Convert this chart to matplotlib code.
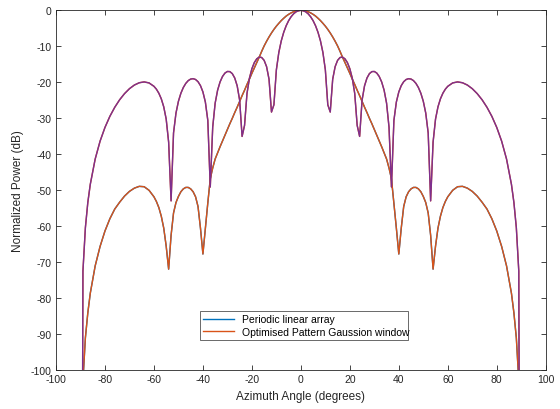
import matplotlib
matplotlib.use("Agg")
import matplotlib.pyplot as plt
import numpy as np

plt.rcParams['font.family'] = ['Liberation Sans', 'DejaVu Sans']
plt.rcParams['axes.unicode_minus'] = False

# azimuth grid (degrees)
angle = [-90, -89, -88, -87, -86, -84, -82, -80, -78, -76, -74, -72, -70, -68, -66, -64, -62,
         -60, -59, -58, -57, -56, -55, -54, -53, -52, -51, -50, -49, -48, -47, -46, -45, -44, -43,
         -42, -41, -40, -39, -38, -37, -36, -35, -34, -33, -32, -31, -30, -29, -28, -27, -26, -25,
         -24, -23, -22, -21, -20, -19, -18, -17, -16, -15, -14, -13, -12, -11, -10, -9, -8, -7,
         -6, -5, -4, -3, -2, -1,
         0,
         1, 2, 3, 4, 5, 6, 7, 8, 9, 10, 11, 12, 13, 14, 15, 16, 17, 18, 19, 20, 21, 22, 23, 24,
         25, 26, 27, 28, 29, 30, 31, 32, 33, 34, 35, 36, 37, 38, 39, 40, 41, 42, 43, 44, 45, 46,
         47, 48, 49, 50, 51, 52, 53, 54, 55, 56, 57, 58, 59, 60,
         62, 64, 66, 68, 70, 72, 74, 76, 78, 80, 82, 84, 86, 87, 88, 89, 90]

# periodic (uniform) linear array, normalised power in dB
periodic_db = [-300, -72.44, -60.39, -53.34, -48.35, -41.32, -36.35, -32.53, -29.45, -26.93, -24.84,
               -23.13, -21.77, -20.76, -20.12, -19.89, -20.17,
               -21.11, -21.91, -23.03, -24.59, -26.81, -30.21, -36.61, -52.94, -34.06, -28.54, -25.27,
               -23.04, -21.44, -20.30, -19.53, -19.10, -18.99, -19.22, -19.83, -20.92, -22.67, -25.48,
               -30.58, -49.08, -32.44, -25.78, -22.19, -19.90, -18.38, -17.43, -16.99, -17.03, -17.59,
               -18.81, -20.99, -24.96, -35.03, -31.97, -23.10, -18.86, -16.23, -14.51, -13.47, -13.00,
               -13.11, -13.90, -15.65, -19.14, -28.26, -26.24, -16.52, -11.70, -8.48, -6.11, -4.29,
               -2.88, -1.80, -0.99, -0.43, -0.11,
               0.0,
               -0.11, -0.43, -0.99, -1.80, -2.88, -4.29, -6.11, -8.48, -11.70, -16.52, -26.24, -28.26,
               -19.14, -15.65, -13.90, -13.11, -13.00, -13.47, -14.51, -16.23, -18.86, -23.10, -31.97,
               -35.03, -24.96, -20.99, -18.81, -17.59, -17.03, -16.99, -17.43, -18.38, -19.90, -22.19,
               -25.78, -32.44, -49.08, -30.58, -25.48, -22.67, -20.92, -19.83, -19.22, -18.99, -19.10,
               -19.53, -20.30, -21.44, -23.04, -25.27, -28.54, -34.06, -52.94, -36.61, -30.21, -26.81,
               -24.59, -23.03, -21.91, -21.11,
               -20.17, -19.89, -20.12, -20.76, -21.77, -23.13, -24.84, -26.93, -29.45, -32.53, -36.35,
               -41.32, -48.35, -53.34, -60.39, -72.44, -300]

# gaussian window pattern, normalised power in dB
gauss_db = [-300, -103.0, -91.0, -84.0, -78.6, -71.0, -65.6, -61.3, -57.9, -55.2, -53.3, -51.6,
            -50.3, -49.4, -48.9, -49.0, -50.0,
            -51.8, -53.1, -54.8, -57.2, -60.5, -65.5, -71.9, -62.5, -56.3, -53.4, -51.7, -50.4,
            -49.6, -49.2, -49.2, -49.6, -50.4, -51.8, -54.5, -60.5, -67.7, -60.5, -53.5, -46.8,
            -43.8, -41.3, -39.6, -37.9, -36.3, -34.7, -33.1, -31.5, -30.0, -28.4, -26.9, -25.3,
            -23.7, -22.2, -20.6, -19.1, -17.5, -16.0, -14.5, -13.0, -11.4, -9.9, -8.6, -7.4, -6.3,
            -5.3, -4.4, -3.6, -2.85, -2.2, -1.6, -1.12, -0.72, -0.4, -0.18, -0.05,
            0.0,
            -0.05, -0.18, -0.4, -0.72, -1.12, -1.6, -2.2, -2.85, -3.6, -4.4, -5.3, -6.3, -7.4, -8.6,
            -9.9, -11.4, -13.0, -14.5, -16.0, -17.5, -19.1, -20.6, -22.2, -23.7, -25.3, -26.9,
            -28.4, -30.0, -31.5, -33.1, -34.7, -36.3, -37.9, -39.6, -41.3, -43.8, -46.8, -53.5,
            -60.5, -67.7, -60.5, -54.5, -51.8, -50.4, -49.6, -49.2, -49.2, -49.6, -50.4, -51.7,
            -53.4, -56.3, -62.5, -71.9, -65.5, -60.5, -57.2, -54.8, -53.1, -51.8,
            -50.0, -49.0, -48.9, -49.4, -50.3, -51.6, -53.3, -55.2, -57.9, -61.3, -65.6, -71.0,
            -78.6, -84.0, -91.0, -103.0, -300]

blue = '#0072BD'
orange = '#D95319'
purple = '#7E2F8E'
dark = '#262626'

fig = plt.figure(figsize=(5.6, 4.1), dpi=100)
ax = fig.add_axes([0.1, 0.0944, 0.8745, 0.878])

# lines overlap as in the original figure
h1, = ax.plot(angle, gauss_db, color=blue, lw=1.0)
h2, = ax.plot(angle, periodic_db, color=orange, lw=1.0)
ax.plot(angle, gauss_db, color=orange, lw=1.0)
ax.plot(angle, periodic_db, color=purple, lw=1.0)

ax.set_xlim(-100, 100)
ax.set_ylim(-100, 0)
ax.set_xticks(np.arange(-100, 101, 20))
ax.set_yticks(np.arange(-100, 1, 10))
ax.tick_params(direction='in', top=True, right=True, length=3.5, width=0.6,
               labelsize=7.5, colors=dark, pad=3)
for s in ax.spines.values():
    s.set_color(dark)
    s.set_linewidth(0.6)

ax.set_xlabel('Azimuth Angle (degrees)', fontsize=8.5, color=dark, labelpad=4)
ax.set_ylabel('Normalized Power (dB)', fontsize=8.5, color=dark, labelpad=5)

leg = ax.legend([h1, h2], ['Periodic linear array', 'Optimised Pattern Gaussion window'],
                loc='lower left', bbox_to_anchor=(0.294, 0.084, 0.425, 0.08), mode='expand',
                fontsize=7.5, frameon=True, fancybox=False, borderaxespad=0,
                handlelength=3.0, handletextpad=0.7, borderpad=0.3, labelspacing=0.25)
leg.get_frame().set_edgecolor(dark)
leg.get_frame().set_linewidth(0.6)

fig.savefig('out.png', dpi=100)
